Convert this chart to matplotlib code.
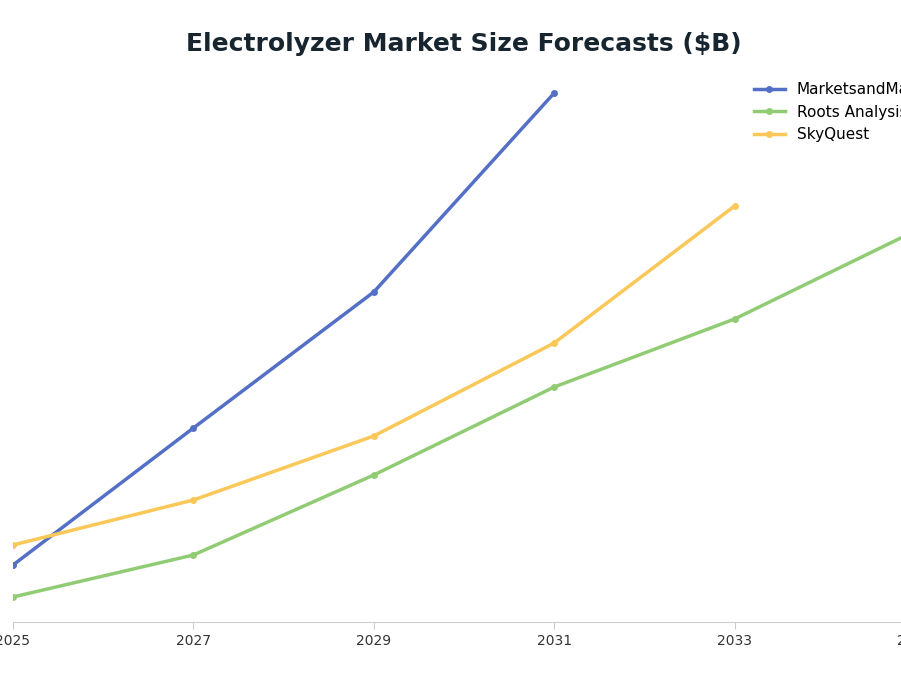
import matplotlib.pyplot as plt

years = [2025, 2027, 2029, 2031, 2033, 2035]

mm_years = [2025, 2027, 2029, 2031]
mm_values = [5.7, 19.4, 33.0, 52.9]

roots_years = [2025, 2027, 2029, 2031, 2033, 2035]
roots_values = [2.5, 6.7, 14.7, 23.5, 30.3, 39.1]

sky_years = [2025, 2027, 2029, 2031, 2033]
sky_values = [7.7, 12.2, 18.6, 27.9, 41.6]

fig = plt.figure(figsize=(9.01, 6.76), dpi=100)
ax = fig.add_axes([13 / 901, 54 / 676, 902 / 901, 547 / 676])

ax.plot(mm_years, mm_values, color="#5470c6", linewidth=2.5, marker="o",
        markersize=4, label="MarketsandMarkets")
ax.plot(roots_years, roots_values, color="#91cc75", linewidth=2.5, marker="o",
        markersize=4, label="Roots Analysis")
ax.plot(sky_years, sky_values, color="#fac858", linewidth=2.5, marker="o",
        markersize=4, label="SkyQuest")

ax.set_xlim(2025, 2035)
ax.set_ylim(0, 54.7)
ax.set_xticks(years)
ax.set_xticklabels([str(y) for y in years])
ax.set_yticks([])
for side in ("left", "right", "top"):
    ax.spines[side].set_visible(False)
ax.spines["bottom"].set_color("#cccccc")
ax.tick_params(axis="x", length=5, color="#cccccc", labelsize=10, labelcolor="#333333")

ax.set_title("Electrolyzer Market Size Forecasts ($B)", fontsize=18,
             fontweight="bold", color="#17252f", pad=17)

fig.legend(loc="upper left", bbox_to_anchor=(748 / 901, 600 / 676),
           frameon=False, fontsize=11, handlelength=2, borderaxespad=0)

fig.savefig("out.png", dpi=100)
